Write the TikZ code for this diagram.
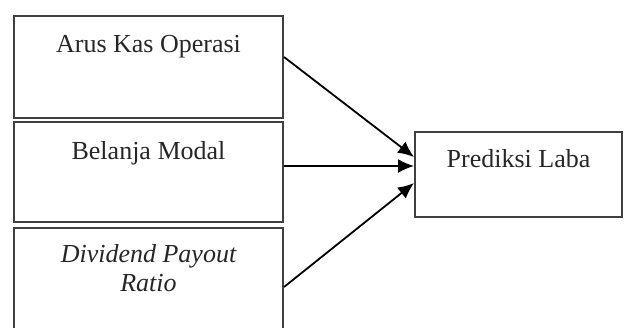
\documentclass[tikz,border=0pt]{standalone}
\usepackage{fontspec}
\setmainfont{Liberation Serif}
\usetikzlibrary{arrows.meta}
\begin{document}
\begin{tikzpicture}[x=0.5pt,y=-0.5pt,
  box/.style={draw=black!75,line width=1pt,rectangle,inner sep=0pt},
  lbl/.style={font=\fontsize{13}{14.5}\selectfont,text=black!85,align=center,inner sep=0pt},
  arr/.style={draw=black,line width=0.9pt,-{Latex[length=8pt,width=7pt]}}]
\useasboundingbox (0,0) rectangle (627,327);
\begin{scope}
\clip (0,0) rectangle (627,327);
\node[box,minimum width=134.5pt,minimum height=51pt] (b1) at (148.5,67) {};
\node[box,minimum width=134.5pt,minimum height=50pt] (b2) at (148.5,172) {};
\node[box,minimum width=134.5pt,minimum height=59pt] (b3) at (148.5,287) {};
\node[box,minimum width=103.5pt,minimum height=42.5pt] (p) at (518.5,174.5) {};
\end{scope}
\node[lbl,anchor=base] (t1) at (148.5,52) {Arus Kas Operasi};
\node[lbl,anchor=base] (t2) at (148.5,159) {Belanja Modal};
\node[lbl,anchor=base] (t3) at (148.5,291) {\itshape Dividend Payout\\\itshape Ratio};
\node[lbl,anchor=base] (tp) at (518.5,167) {Prediksi Laba};
\draw[arr] ([yshift=5pt]b1.east) -- ([yshift=8.75pt]p.west);
\draw[arr] ([yshift=3pt]b2.east) -- ([yshift=4.25pt]p.west);
\draw[arr] (b3.east) -- ([yshift=-4.25pt]p.west);
\end{tikzpicture}
\end{document}
